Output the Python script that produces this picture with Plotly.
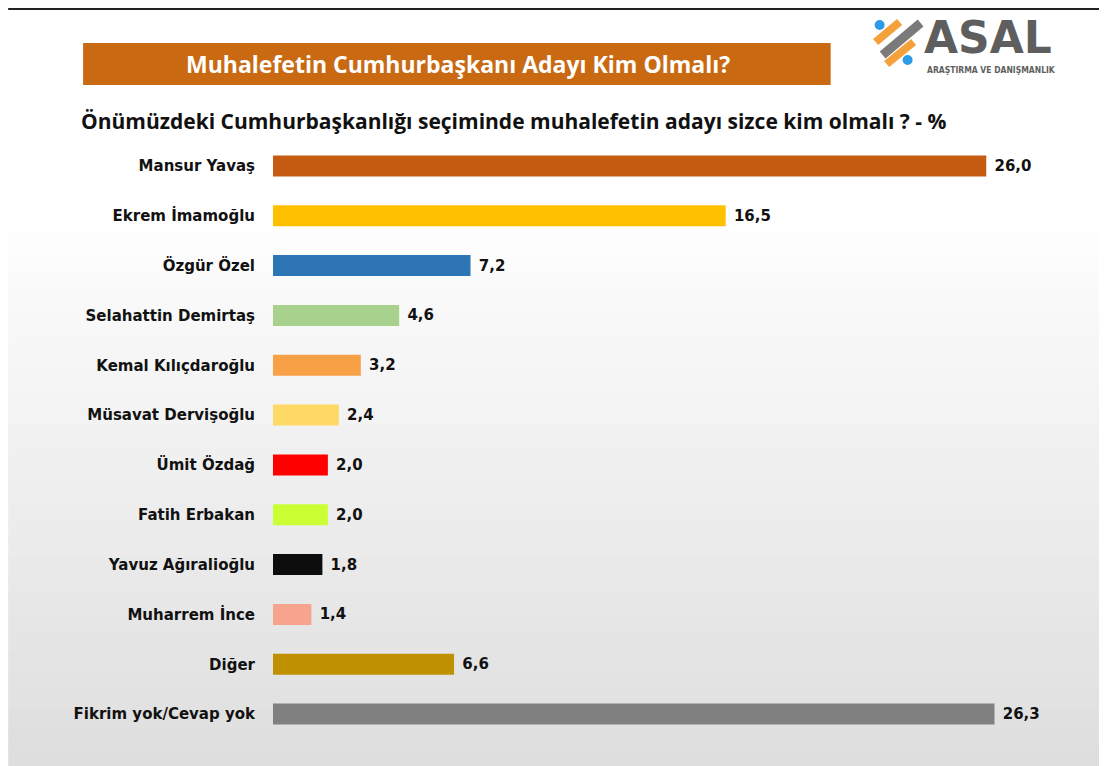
import plotly.graph_objects as go

# data
candidates = ["Mansur Yavaş", "Ekrem İmamoğlu", "Özgür Özel", "Selahattin Demirtaş",
              "Kemal Kılıçdaroğlu", "Müsavat Dervişoğlu", "Ümit Özdağ", "Fatih Erbakan",
              "Yavuz Ağıralioğlu", "Muharrem İnce", "Diğer", "Fikrim yok/Cevap yok"]
shares = [26.0, 16.5, 7.2, 4.6, 3.2, 2.4, 2.0, 2.0, 1.8, 1.4, 6.6, 26.3]
bar_colors = ["#C55A11", "#FFC000", "#2E75B6", "#A9D18E", "#F8A045", "#FFD966",
              "#FF0000", "#CCFF33", "#0D0D0D", "#F6A48E", "#BF9000", "#808080"]

title = "Muhalefetin Cumhurbaşkanı Adayı Kim Olmalı?"
subtitle = "Önümüzdeki Cumhurbaşkanlığı seçiminde muhalefetin adayı sizce kim olmalı ? - %"

# page body has an 8px margin, so the figure is drawn 8px in from the corner
OFF = 8
W, H = 1107 - OFF, 766 - OFF
L, T = 273 - OFF, 141 - OFF
PW, PH = 823.5, 598

def px(x):
    return (x - OFF - L) / PW

def py(y):
    return 1 - (y - OFF - T) / PH

labels = [" " + f"{v:.1f}".replace(".", ",") for v in shares]

fig = go.Figure(go.Bar(
    x=shares, y=candidates, orientation="h",
    marker=dict(color=bar_colors, line=dict(width=0)),
    width=0.42,
    text=labels, textposition="outside", cliponaxis=False,
    textfont=dict(family="DejaVu Sans", size=15, color="#111111", weight="bold"),
    hoverinfo="skip",
))

shapes = []
# background: white fading to light grey (stripes overlap to hide seams)
n = 40
for i in range(n):
    top = OFF + H * i / n
    bot = min(OFF + H, OFF + H * (i + 1) / n + 3)
    f = max(0.0, (i / n - 0.25) / 0.75)
    g = int(round(255 - f * 34))
    shapes.append(dict(type="rect", xref="paper", yref="paper", layer="below",
                       x0=px(OFF), x1=px(OFF + W), y0=py(bot), y1=py(top),
                       fillcolor=f"rgb({g},{g},{g})", line=dict(width=0)))
# dark strip on top edge
shapes.append(dict(type="rect", xref="paper", yref="paper",
                   x0=px(OFF), x1=px(OFF + W), y0=py(OFF + 2), y1=py(OFF),
                   fillcolor="#222222", line=dict(width=0)))
# title banner
shapes.append(dict(type="rect", xref="paper", yref="paper",
                   x0=px(83), x1=px(831), y0=py(85), y1=py(43),
                   fillcolor="#C96A12", line=dict(width=0)))
# logo mark
shapes.append(dict(type="line", xref="paper", yref="paper",
                   x0=px(876), y0=py(42), x1=px(900), y1=py(22),
                   line=dict(color="#F4A13B", width=8)))
shapes.append(dict(type="line", xref="paper", yref="paper",
                   x0=px(887), y0=py(64), x1=px(914), y1=py(42),
                   line=dict(color="#F4A13B", width=8)))
shapes.append(dict(type="line", xref="paper", yref="paper",
                   x0=px(883), y0=py(55), x1=px(921), y1=py(23),
                   line=dict(color="#7A7A7A", width=9)))
for cx, cy in [(880, 25), (908, 60)]:
    shapes.append(dict(type="circle", xref="paper", yref="paper",
                       x0=px(cx - 5), x1=px(cx + 5), y0=py(cy + 5), y1=py(cy - 5),
                       fillcolor="#2E9BE6", line=dict(width=0)))

annotations = [
    dict(text=title, xref="paper", yref="paper", x=px(458), y=py(64),
         showarrow=False, xanchor="center", yanchor="middle",
         font=dict(family="Open Sans", size=23, color="white", weight="bold")),
    dict(text=subtitle, xref="paper", yref="paper", x=px(79), y=py(121),
         showarrow=False, xanchor="left", yanchor="middle",
         font=dict(family="Open Sans", size=21, color="#111111", weight="bold")),
    dict(text="ASAL", xref="paper", yref="paper", x=px(922), y=py(37),
         showarrow=False, xanchor="left", yanchor="middle",
         font=dict(family="DejaVu Sans", size=44, color="#5E5E5E", weight="bold")),
    dict(text="ARAŞTIRMA VE DANIŞMANLIK", xref="paper", yref="paper", x=px(925), y=py(70),
         showarrow=False, xanchor="left", yanchor="middle",
         font=dict(family="DejaVu Sans Condensed", size=8.5, color="#5E5E5E", weight="bold")),
]

fig.update_layout(
    width=W, height=H,
    margin=dict(l=L, r=W - L - PW, t=T, b=H - T - PH, pad=0),
    paper_bgcolor="white", plot_bgcolor="rgba(0,0,0,0)",
    showlegend=False,
    shapes=shapes, annotations=annotations,
    xaxis=dict(range=[0, 30], visible=False, fixedrange=True),
    yaxis=dict(autorange="reversed", showgrid=False, zeroline=False, showline=False,
               ticks="", ticklabelstandoff=17, fixedrange=True,
               tickfont=dict(family="DejaVu Sans", size=15, color="#111111", weight="bold")),
)

fig.write_html("out.html")
